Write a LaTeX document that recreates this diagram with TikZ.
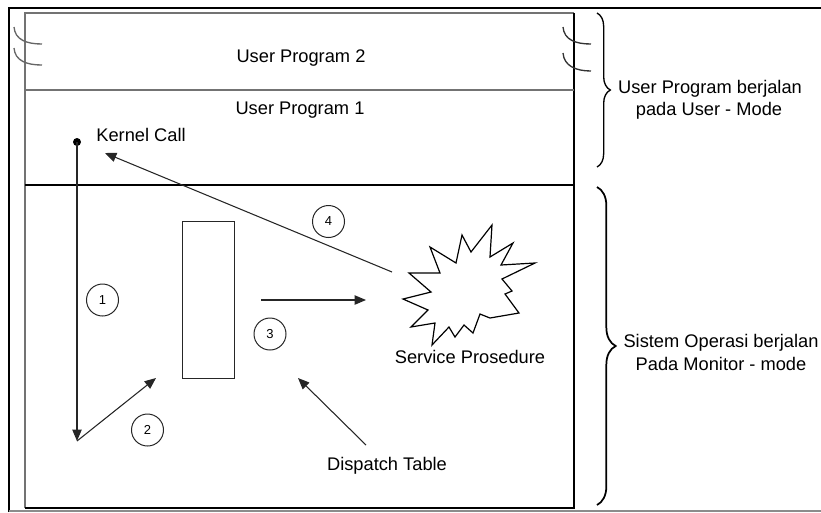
\documentclass[tikz,border=0pt]{standalone}
\usepackage{fontspec}
\setmainfont{Liberation Sans}
\usetikzlibrary{arrows.meta,decorations.pathreplacing}
\begin{document}
\begin{tikzpicture}[x=0.75pt,y=-0.75pt,
  lbl/.style={font=\fontsize{13.7}{16}\selectfont, inner sep=0pt, anchor=base},
  num/.style={circle,draw=black!85,line width=0.75pt,minimum size=24pt,inner sep=0pt,font=\fontsize{9.75}{11}\selectfont},
  arr/.style={line width=0.8pt,draw=black!85,-{Triangle[length=8.5pt,width=7pt]}},
  boxline/.style={line width=0.9pt},
  wave/.style={line width=1pt,draw=black!60},
  bracestyle/.style={decorate,line width=1pt},
  ]
\useasboundingbox (0,0) rectangle (821,512);
% outer frame
\draw[line width=2pt] (9,512) -- (9,8) -- (821,8);
\draw[line width=1pt,black!45] (9,511) -- (821,511);
% inner box
\draw[boxline,black!55] (25,508) -- (25,13) -- (574,13);
\draw[boxline] (574,13) -- (574,508) -- (25,508);
\draw[boxline,black!55] (25,90) -- (574,90);
\draw[boxline] (25,185) -- (574,185);
% small arcs
\draw[wave] (14,27) .. controls (15,40) and (27,44) .. (42,44);
\draw[wave] (14,48) .. controls (15,61) and (27,65) .. (42,65);
\draw[wave,black!80] (563,27) .. controls (564,40) and (576,44) .. (591,44);
\draw[wave,black!80] (563,53) .. controls (564,66) and (576,71) .. (591,71);
% texts
\node[lbl] (up2) at (301,62) {User Program 2};
\node[lbl] (up1) at (300,114) {User Program 1};
\node[lbl] (kc) at (141,141) {Kernel Call};
\node[lbl] (sp) at (470,363) {Service Prosedure};
\node[lbl] (dt) at (387,470) {Dispatch Table};
\node[lbl] (t1) at (710,93) {User Program berjalan};
\node[lbl] (t2) at (709,115) {pada User - Mode};
\node[lbl] (t3) at (721,347) {Sistem Operasi berjalan};
\node[lbl] (t4) at (721,370) {Pada Monitor - mode};
% braces
\draw[bracestyle,decoration={brace,amplitude=10pt}] (597,13) -- (597,167);
\draw[bracestyle,line width=1.3pt,decoration={brace,amplitude=14pt}] (597,187) -- (597,505);
% dispatch table rectangle
\node[draw=black!85,line width=0.8pt,minimum width=39pt,minimum height=117.75pt,inner sep=0pt] (tab) at (208.3,299.7) {};
% starburst
\draw[line width=0.9pt,line join=miter] (430,247) -- (456,263) -- (462,235) -- (471,252) -- (492,225) -- (490,257) -- (513,243) -- (501,265) -- (535,263) -- (502,279) -- (512,291) -- (505,294) -- (519,313) -- (490,318) -- (480,314) -- (473,333) -- (464,325) -- (455,337) -- (449,327) -- (432,345) -- (435,323) -- (411,327) -- (428,310) -- (403,299) -- (431,292) -- (409,273) -- (440,273) -- cycle;
% coordinates
\coordinate (kstart) at (77,142);
\coordinate (kend) at (77,441);
\coordinate (a2end) at (156,378);
\coordinate (a3start) at (261,300);
\coordinate (a3end) at (366,300);
\coordinate (a4start) at (392,272);
\coordinate (a4end) at (105,153);
\coordinate (dtstart) at (366,445);
\coordinate (dtend) at (298,378);
\fill (kstart) circle (3pt);
% arrows
\draw[arr] (kstart) -- (kend);
\draw[arr] (kend) -- (a2end);
\draw[arr] (a3start) -- (a3end);
\draw[arr] (a4start) -- (a4end);
\draw[arr] (dtstart) -- (dtend);
% numbers
\node[num] (n1) at (102.5,300) {1};
\node[num] (n2) at (147.5,430) {2};
\node[num] (n3) at (270,334) {3};
\node[num] (n4) at (328.5,221.5) {4};
\end{tikzpicture}
\end{document}
